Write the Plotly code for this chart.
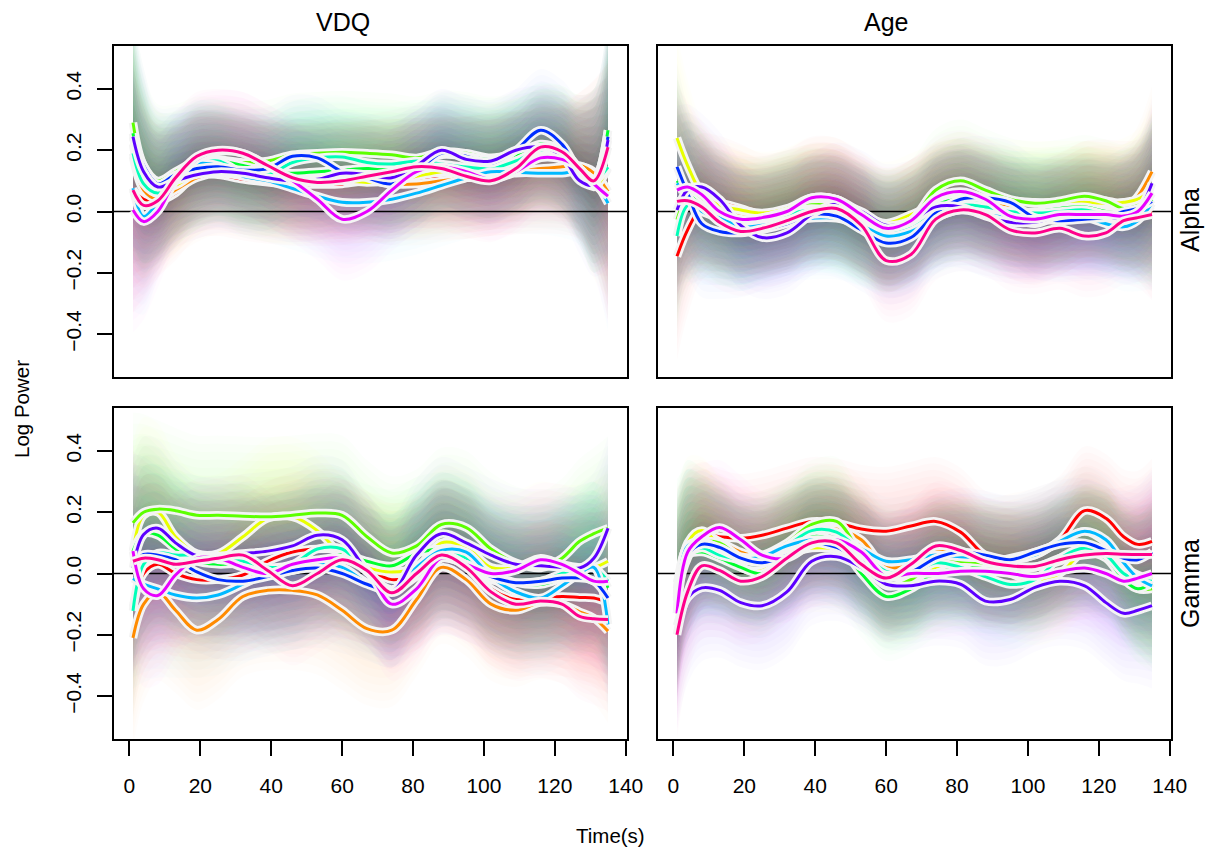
import plotly.graph_objects as go

# ---------------- data ----------------
time_s = [1, 4, 8, 13, 19, 25, 32, 39, 46, 53, 60, 67, 74, 81, 88, 95, 102, 109, 116, 122, 127, 131, 135]

series_names = ["S1", "S2", "S3", "S4", "S5", "S6", "S7", "S8", "S9", "S10", "S11"]
series_colors = ["#FF0000", "#FF8B00", "#E8FF00", "#5DFF00", "#00FF2E", "#00FFB9",
                 "#00B9FF", "#002EFF", "#5D00FF", "#E800FF", "#FF008B"]

col_labels = ["VDQ", "Age"]
row_labels = ["Alpha", "Gamma"]

vdq_alpha = [
    [0.07, 0.04, 0.033, 0.06, 0.12, 0.12, 0.105, 0.095, 0.088, 0.088, 0.09, 0.1, 0.102, 0.106, 0.108, 0.11, 0.12, 0.125, 0.128, 0.135, 0.148, 0.13, 0.065],
    [0.18, 0.07, 0.04, 0.07, 0.11, 0.125, 0.115, 0.1, 0.1, 0.105, 0.11, 0.105, 0.09, 0.09, 0.1, 0.11, 0.12, 0.13, 0.14, 0.146, 0.15, 0.125, 0.065],
    [0.22, 0.1, 0.08, 0.085, 0.13, 0.155, 0.125, 0.1, 0.092, 0.1, 0.1, 0.095, 0.1, 0.115, 0.13, 0.135, 0.15, 0.17, 0.2, 0.18, 0.125, 0.08, 0.14],
    [0.29, 0.15, 0.1, 0.13, 0.165, 0.17, 0.16, 0.165, 0.185, 0.19, 0.193, 0.19, 0.185, 0.175, 0.195, 0.19, 0.175, 0.19, 0.215, 0.2, 0.14, 0.1, 0.265],
    [0.255, 0.12, 0.076, 0.105, 0.15, 0.165, 0.15, 0.13, 0.125, 0.13, 0.135, 0.14, 0.14, 0.155, 0.185, 0.18, 0.17, 0.185, 0.22, 0.2, 0.14, 0.1, 0.265],
    [0.19, 0.09, 0.06, 0.1, 0.15, 0.165, 0.125, 0.12, 0.16, 0.175, 0.178, 0.16, 0.155, 0.165, 0.155, 0.145, 0.14, 0.165, 0.2, 0.19, 0.12, 0.1, 0.145],
    [0.076, -0.016, 0.03, 0.11, 0.155, 0.15, 0.115, 0.1, 0.075, 0.05, 0.03, 0.03, 0.04, 0.06, 0.085, 0.11, 0.13, 0.128, 0.125, 0.125, 0.13, 0.1, 0.027],
    [0.244, 0.15, 0.09, 0.12, 0.14, 0.146, 0.135, 0.14, 0.18, 0.175, 0.13, 0.11, 0.09, 0.13, 0.19, 0.18, 0.157, 0.2, 0.265, 0.22, 0.13, 0.1, 0.244],
    [0.244, 0.13, 0.08, 0.1, 0.12, 0.13, 0.125, 0.11, 0.1, 0.105, 0.125, 0.12, 0.11, 0.15, 0.2, 0.17, 0.165, 0.2, 0.21, 0.18, 0.1, 0.087, 0.233],
    [0.005, -0.033, 0.0, 0.1, 0.17, 0.195, 0.19, 0.15, 0.1, 0.04, -0.025, 0.0, 0.07, 0.13, 0.146, 0.13, 0.105, 0.13, 0.175, 0.17, 0.14, 0.09, 0.05],
    [0.07, 0.02, 0.035, 0.11, 0.18, 0.2, 0.19, 0.15, 0.11, 0.095, 0.1, 0.115, 0.13, 0.146, 0.14, 0.115, 0.1, 0.14, 0.21, 0.195, 0.14, 0.1, 0.21],
]

age_alpha = [
    [-0.146, -0.06, 0.015, 0.027, 0.01, -0.01, 0.0, 0.02, 0.02, -0.02, -0.065, -0.03, 0.02, 0.035, 0.005, -0.02, -0.04, -0.01, 0.03, 0.035, 0.02, 0.005, -0.005],
    [0.092, 0.07, 0.045, 0.01, -0.016, -0.018, 0.005, 0.04, 0.04, -0.005, -0.06, -0.03, 0.03, 0.06, 0.04, 0.01, -0.005, -0.005, 0.03, 0.025, 0.01, 0.05, 0.13],
    [0.24, 0.15, 0.06, 0.02, 0.005, -0.005, 0.01, 0.045, 0.04, -0.01, -0.038, -0.01, 0.025, 0.038, 0.038, 0.035, 0.03, 0.03, 0.03, 0.027, 0.03, 0.04, 0.07],
    [-0.027, 0.045, 0.04, -0.02, -0.038, -0.025, 0.0, 0.022, 0.015, -0.03, -0.065, -0.03, 0.07, 0.1, 0.07, 0.04, 0.027, 0.035, 0.05, 0.035, 0.01, 0.02, 0.045],
    [0.1, 0.06, 0.02, -0.02, -0.03, -0.02, 0.0, 0.01, 0.0, -0.04, -0.06, -0.04, 0.02, 0.04, 0.02, 0.0, 0.0, 0.01, 0.015, 0.0, -0.005, 0.0, 0.04],
    [-0.08, 0.02, 0.02, -0.01, -0.05, -0.035, -0.01, 0.005, -0.01, -0.045, -0.07, -0.055, -0.005, 0.02, 0.015, 0.0, -0.005, 0.0, 0.005, -0.01, -0.01, -0.01, 0.02],
    [0.092, 0.05, 0.0, -0.02, -0.05, -0.045, -0.03, -0.022, -0.022, -0.045, -0.08, -0.065, -0.02, 0.005, -0.01, -0.02, -0.022, -0.025, -0.02, -0.04, -0.05, -0.03, 0.027],
    [0.146, 0.06, -0.04, -0.065, -0.07, -0.06, -0.04, -0.01, -0.015, -0.06, -0.103, -0.085, -0.005, 0.04, 0.045, 0.03, -0.02, -0.03, -0.025, -0.02, 0.0, 0.01, 0.033],
    [0.005, 0.07, 0.08, 0.04, -0.045, -0.085, -0.07, -0.01, 0.025, 0.0, -0.045, -0.03, 0.015, 0.015, -0.015, -0.035, -0.035, -0.015, -0.01, -0.015, -0.025, 0.0, 0.092],
    [0.07, 0.08, 0.055, 0.0, -0.025, -0.02, 0.0, 0.045, 0.04, -0.01, -0.055, -0.03, 0.045, 0.065, 0.04, -0.015, -0.025, -0.01, -0.01, -0.01, -0.015, 0.0, 0.06],
    [0.033, 0.035, 0.015, -0.035, -0.065, -0.055, -0.03, 0.0, 0.01, -0.045, -0.16, -0.14, -0.025, 0.005, -0.01, -0.06, -0.07, -0.055, -0.08, -0.07, -0.03, -0.02, -0.01],
]

vdq_gamma = [
    [-0.11, 0.0, 0.03, 0.0, -0.02, -0.02, -0.005, 0.04, 0.07, 0.08, 0.075, 0.02, -0.02, 0.0, 0.055, 0.03, -0.05, -0.085, -0.082, -0.075, -0.078, -0.08, -0.095],
    [-0.21, -0.1, -0.06, -0.12, -0.185, -0.15, -0.075, -0.055, -0.055, -0.07, -0.12, -0.18, -0.185, -0.085, 0.02, -0.02, -0.1, -0.12, -0.095, -0.1, -0.125, -0.145, -0.188],
    [0.073, 0.19, 0.2, 0.12, 0.065, 0.065, 0.12, 0.18, 0.185, 0.14, 0.06, 0.02, 0.005, 0.02, 0.1, 0.085, 0.02, 0.02, 0.05, 0.03, 0.02, 0.02, 0.04],
    [0.165, 0.2, 0.21, 0.205, 0.19, 0.19, 0.187, 0.185, 0.19, 0.197, 0.19, 0.12, 0.067, 0.09, 0.16, 0.15, 0.08, 0.035, 0.018, 0.05, 0.105, 0.13, 0.148],
    [0.073, 0.13, 0.125, 0.08, 0.04, 0.03, 0.03, 0.0, 0.01, 0.03, 0.062, 0.04, 0.025, 0.065, 0.08, 0.055, 0.0, -0.03, -0.036, -0.015, 0.01, 0.02, -0.047],
    [-0.122, 0.03, 0.067, 0.06, 0.06, 0.045, 0.04, 0.02, 0.03, 0.08, 0.08, 0.005, -0.052, 0.01, 0.08, 0.05, -0.02, -0.03, -0.025, 0.0, 0.018, 0.018, -0.025],
    [-0.016, -0.035, -0.05, -0.07, -0.08, -0.07, -0.035, 0.0, 0.01, 0.03, 0.02, -0.03, -0.057, 0.02, 0.075, 0.07, -0.01, -0.06, -0.08, -0.04, 0.0, 0.02, -0.166],
    [0.03, 0.062, 0.06, 0.045, 0.005, -0.02, -0.025, -0.01, 0.01, 0.018, 0.0, -0.035, -0.057, -0.01, 0.05, 0.03, -0.01, -0.03, -0.025, -0.015, -0.015, -0.025, -0.08],
    [0.018, 0.127, 0.148, 0.1, 0.058, 0.057, 0.065, 0.073, 0.09, 0.125, 0.11, 0.01, -0.057, 0.06, 0.13, 0.1, 0.06, 0.03, 0.025, 0.02, 0.018, 0.05, 0.148],
    [0.073, -0.05, -0.072, -0.005, 0.05, 0.05, 0.02, 0.0, 0.03, 0.045, 0.05, 0.01, -0.1, -0.05, 0.05, 0.03, 0.0, 0.01, 0.045, 0.03, 0.0, -0.025, -0.025],
    [0.04, 0.05, 0.045, 0.03, 0.04, 0.05, 0.06, 0.01, -0.04, 0.0, 0.045, 0.01, -0.063, 0.0, 0.06, 0.02, -0.06, -0.1, -0.09, -0.1, -0.14, -0.148, -0.15],
]

age_gamma = [
    [-0.06, 0.05, 0.125, 0.12, 0.115, 0.125, 0.148, 0.17, 0.165, 0.145, 0.138, 0.155, 0.17, 0.135, 0.06, 0.045, 0.06, 0.11, 0.205, 0.18, 0.12, 0.095, 0.105],
    [-0.07, 0.08, 0.13, 0.105, 0.07, 0.055, 0.09, 0.135, 0.145, 0.11, 0.02, 0.03, 0.07, 0.065, 0.035, 0.05, 0.07, 0.1, 0.138, 0.1, 0.02, -0.02, -0.04],
    [-0.13, 0.1, 0.14, 0.09, 0.02, 0.01, 0.06, 0.083, 0.08, 0.06, -0.005, -0.01, 0.02, 0.04, 0.03, 0.0, -0.025, 0.0, 0.073, 0.065, 0.02, -0.005, -0.02],
    [-0.05, 0.09, 0.105, 0.1, 0.055, 0.06, 0.1, 0.16, 0.17, 0.06, -0.04, -0.02, 0.04, 0.035, 0.03, 0.02, 0.02, 0.04, 0.08, 0.075, 0.0, -0.05, -0.05],
    [-0.03, 0.06, 0.07, 0.05, 0.02, 0.0, 0.06, 0.12, 0.1, 0.0, -0.075, -0.05, 0.0, 0.02, 0.015, 0.01, 0.02, 0.05, 0.07, 0.05, -0.02, -0.05, -0.03],
    [-0.09, 0.06, 0.083, 0.06, 0.045, 0.04, 0.09, 0.14, 0.135, 0.07, 0.007, 0.0, 0.035, 0.02, -0.01, -0.036, -0.02, 0.05, 0.083, 0.06, 0.0, -0.02, -0.025],
    [-0.08, 0.09, 0.105, 0.08, 0.05, 0.055, 0.09, 0.11, 0.105, 0.08, 0.04, 0.045, 0.06, 0.055, 0.05, 0.045, 0.06, 0.105, 0.138, 0.11, 0.035, -0.015, -0.04],
    [-0.08, 0.06, 0.095, 0.085, 0.05, 0.035, 0.06, 0.1, 0.085, 0.04, -0.005, 0.005, 0.05, 0.07, 0.06, 0.045, 0.07, 0.095, 0.1, 0.075, 0.05, 0.045, 0.07],
    [-0.17, -0.08, -0.047, -0.055, -0.095, -0.105, -0.06, 0.04, 0.055, 0.02, -0.035, -0.04, -0.025, -0.035, -0.09, -0.085, -0.045, -0.025, -0.04, -0.095, -0.13, -0.12, -0.105],
    [-0.13, 0.07, 0.12, 0.15, 0.11, 0.06, 0.05, 0.095, 0.11, 0.07, -0.01, 0.0, 0.0, 0.007, 0.007, 0.0, -0.01, 0.007, 0.018, 0.0, -0.025, -0.015, 0.0],
    [-0.2, -0.06, 0.025, 0.01, -0.025, -0.01, 0.05, 0.1, 0.1, 0.03, -0.015, 0.03, 0.09, 0.075, 0.04, 0.025, 0.023, 0.045, 0.06, 0.065, 0.063, 0.062, 0.062],
]

# ribbon half-widths (shared by the series of a panel)
hw_vdq_alpha = [0.40, 0.32, 0.25, 0.22, 0.21, 0.2, 0.2, 0.2, 0.2, 0.2, 0.2, 0.2, 0.2, 0.2, 0.2, 0.2, 0.2, 0.2, 0.2, 0.21, 0.24, 0.3, 0.42]
hw_age_alpha = [0.34, 0.28, 0.24, 0.22, 0.21, 0.2, 0.2, 0.2, 0.2, 0.2, 0.2, 0.2, 0.2, 0.2, 0.2, 0.2, 0.2, 0.2, 0.2, 0.2, 0.21, 0.23, 0.28]
hw_vdq_gamma = [0.36, 0.32, 0.29, 0.27, 0.26, 0.26, 0.26, 0.26, 0.26, 0.26, 0.26, 0.25, 0.25, 0.25, 0.25, 0.25, 0.25, 0.25, 0.25, 0.26, 0.27, 0.28, 0.3]
hw_age_gamma = [0.34, 0.28, 0.24, 0.22, 0.21, 0.21, 0.21, 0.21, 0.21, 0.21, 0.21, 0.21, 0.21, 0.21, 0.21, 0.21, 0.21, 0.21, 0.21, 0.21, 0.22, 0.24, 0.27]

x_ticks = [0, 20, 40, 60, 80, 100, 120, 140]
y_ticks = [-0.4, -0.2, 0.0, 0.2, 0.4]
y_ticklabels = ["\u22120.4", "\u22120.2", "0.0", "0.2", "0.4"]

# ---------------- figure ----------------
W, H = 1210, 852
FONT = "Liberation Sans, Arial, sans-serif"

xdom = [[114 / W, 627 / W], [658 / W, 1171 / W]]
ydom = [[1 - 377 / H, 1 - 46 / H], [1 - 739 / H, 1 - 408 / H]]

panels = [
    (0, 0, vdq_alpha, hw_vdq_alpha),
    (0, 1, age_alpha, hw_age_alpha),
    (1, 0, vdq_gamma, hw_vdq_gamma),
    (1, 1, age_gamma, hw_age_gamma),
]

levels = [1.0, 0.9, 0.8, 0.7, 0.6, 0.5, 0.4, 0.3, 0.2, 0.1]
ALPHA = 0.016


def rgba(hexc, a):
    h = hexc.lstrip("#")
    r, g, b = int(h[0:2], 16), int(h[2:4], 16), int(h[4:6], 16)
    return f"rgba({r},{g},{b},{a})"


fig = go.Figure()
layout_axes = {}
nser = len(series_colors)

for idx, (r, c, data, hw) in enumerate(panels):
    n = idx + 1
    xa = "x" if n == 1 else f"x{n}"
    ya = "y" if n == 1 else f"y{n}"
    # ribbons: graded bands, drawn level by level with rotating series order (neutral blend)
    for k, lv in enumerate(levels):
        for j in range(nser):
            s = (j + 4 * k) % nser
            vals = data[s]
            lo = [v - h * lv for v, h in zip(vals, hw)]
            up = [v + h * lv for v, h in zip(vals, hw)]
            fig.add_trace(go.Scatter(x=time_s, y=lo, mode="lines", line=dict(width=0, shape="spline"),
                                     xaxis=xa, yaxis=ya, showlegend=False, hoverinfo="skip"))
            fig.add_trace(go.Scatter(x=time_s, y=up, mode="lines", line=dict(width=0, shape="spline"),
                                     fill="tonexty", fillcolor=rgba(series_colors[s], ALPHA),
                                     xaxis=xa, yaxis=ya, showlegend=False, hoverinfo="skip"))
    # zero line
    fig.add_trace(go.Scatter(x=[-10, 150], y=[0, 0], mode="lines", line=dict(color="black", width=1.5),
                             xaxis=xa, yaxis=ya, showlegend=False, hoverinfo="skip"))
    # curves with white halo
    for s, vals in enumerate(data):
        fig.add_trace(go.Scatter(x=time_s, y=vals, mode="lines",
                                 line=dict(color="rgba(244,244,244,1)", width=8.5, shape="spline"),
                                 xaxis=xa, yaxis=ya, showlegend=False, hoverinfo="skip"))
        fig.add_trace(go.Scatter(x=time_s, y=vals, mode="lines", name=series_names[s],
                                 line=dict(color=series_colors[s], width=3, shape="spline"),
                                 xaxis=xa, yaxis=ya, showlegend=False))

    xkey = "xaxis" if n == 1 else f"xaxis{n}"
    ykey = "yaxis" if n == 1 else f"yaxis{n}"
    bottom = (r == 1)
    left = (c == 0)
    layout_axes[xkey] = dict(
        domain=xdom[c], anchor=ya, range=[-4.36, 140.36], automargin=False,
        showgrid=False, zeroline=False, showline=True, linecolor="black", linewidth=1.5, mirror=True,
        tickmode="array", tickvals=x_ticks, ticktext=[str(v) for v in x_ticks],
        ticks="outside" if bottom else "", ticklen=15, tickwidth=1.5, tickcolor="black",
        showticklabels=bottom, ticklabelstandoff=12,
        tickfont=dict(family=FONT, size=21, color="black"),
    )
    layout_axes[ykey] = dict(
        domain=ydom[r], anchor=xa, range=[-0.54, 0.54], automargin=False,
        showgrid=False, zeroline=False, showline=True, linecolor="black", linewidth=1.5, mirror=True,
        tickmode="array", tickvals=y_ticks, ticktext=y_ticklabels, tickangle=-90,
        ticks="outside" if left else "", ticklen=15, tickwidth=1.5, tickcolor="black",
        showticklabels=left, ticklabelstandoff=8,
        tickfont=dict(family=FONT, size=21, color="black"),
    )

annotations = [
    dict(text=col_labels[0], x=343 / W, y=1 - 22 / H, xref="paper", yref="paper",
         showarrow=False, font=dict(family=FONT, size=25, color="black"), xanchor="center", yanchor="middle"),
    dict(text=col_labels[1], x=886 / W, y=1 - 22 / H, xref="paper", yref="paper",
         showarrow=False, font=dict(family=FONT, size=25, color="black"), xanchor="center", yanchor="middle"),
    dict(text=row_labels[0], x=1190 / W, y=1 - 220 / H, xref="paper", yref="paper", textangle=-90,
         showarrow=False, font=dict(family=FONT, size=25, color="black"), xanchor="center", yanchor="middle"),
    dict(text=row_labels[1], x=1190 / W, y=1 - 584 / H, xref="paper", yref="paper", textangle=-90,
         showarrow=False, font=dict(family=FONT, size=25, color="black"), xanchor="center", yanchor="middle"),
    dict(text="Log Power", x=21 / W, y=1 - 409 / H, xref="paper", yref="paper", textangle=-90,
         showarrow=False, font=dict(family=FONT, size=20.5, color="black"), xanchor="center", yanchor="middle"),
    dict(text="Time(s)", x=610 / W, y=1 - 835 / H, xref="paper", yref="paper",
         showarrow=False, font=dict(family=FONT, size=20.5, color="black"), xanchor="center", yanchor="middle"),
]

fig.update_layout(
    template="none", autosize=False,
    width=W, height=H, margin=dict(l=0, r=0, t=0, b=0, pad=0, autoexpand=False),
    paper_bgcolor="white", plot_bgcolor="white",
    showlegend=False, annotations=annotations, **layout_axes,
)

fig.write_html("out.html", config={"responsive": False, "displayModeBar": False},
               post_script="document.body.style.margin='0px';document.body.style.overflow='hidden';")
